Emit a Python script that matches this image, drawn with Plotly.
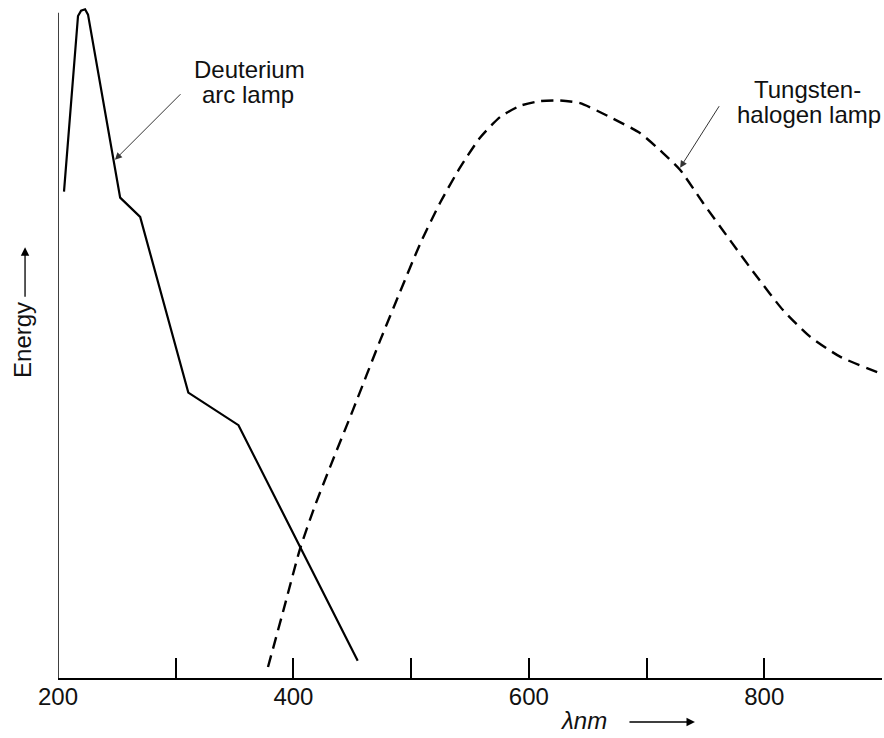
import plotly.graph_objects as go

# Deuterium arc lamp (solid)
deut_x = [205.1, 217.0, 219.6, 223.0, 225.5, 252.8, 269.8, 310.7, 353.3, 454.6]
deut_y = [73.1, 99.5, 100.3, 100.5, 99.7, 72.2, 69.3, 42.9, 38.0, 2.6]

# Tungsten-halogen lamp (dashed)
tung_x = [378.4, 392.0, 405.6, 418.3, 431.1, 450.6, 473.6, 490.5, 507.5, 524.5,
          541.5, 558.5, 575.5, 592.5, 609.5, 626.5, 643.5, 669.0, 694.4, 714.0,
          728.4, 748.0, 770.9, 793.8, 815.9, 838.9, 864.3, 900.0]
tung_y = [1.65, 10.5, 19.4, 25.9, 31.7, 40.3, 50.7, 58.0, 65.2, 71.4,
          76.7, 81.2, 84.3, 86.0, 86.7, 86.8, 86.4, 84.3, 81.9, 78.9,
          76.4, 71.4, 65.8, 60.3, 55.3, 51.3, 48.3, 45.7]

tick_vals = [200, 300, 400, 500, 600, 700, 800, 900]
tick_text = ["200", "", "400", "", "600", "", "800", ""]

FONT = "Liberation Sans, Arial, Helvetica, sans-serif"
TXT = "#111111"

fig = go.Figure()
fig.add_trace(go.Scatter(x=deut_x, y=deut_y, mode="lines",
                         line=dict(color="black", width=2.2), showlegend=False,
                         hoverinfo="skip"))
fig.add_trace(go.Scatter(x=tung_x, y=tung_y, mode="lines",
                         line=dict(color="black", width=2.4, dash="12px,7px",
                                   shape="spline", smoothing=0.6),
                         showlegend=False, hoverinfo="skip"))

# y axis line
fig.add_shape(type="line", xref="x", yref="y", x0=200, x1=200, y0=0, y1=100,
              line=dict(color="black", width=1.5))

ann = []
def txt(s, x, y, xanchor="center", italic=False):
    ann.append(dict(text=("<i>%s</i>" % s) if italic else s, x=x, y=y,
                    xref="paper", yref="paper", xanchor=xanchor, yanchor="middle",
                    showarrow=False, font=dict(family=FONT, size=24, color=TXT)))

txt("Deuterium", 0.2318, 0.9048)
txt("arc lamp", 0.2300, 0.8676)
txt("Tungsten-", 0.9096, 0.876)
txt("halogen lamp", 1.001, 0.8378, xanchor="right")

# Energy label
ann.append(dict(text="Energy", x=-0.0425, y=0.503, xref="paper", yref="paper",
                textangle=-90, showarrow=False, xanchor="center", yanchor="middle",
                font=dict(family=FONT, size=24, color=TXT)))
ann.append(dict(text="", x=-0.040, y=0.641, xref="paper", yref="paper",
                showarrow=True, ax=0, ay=51, arrowhead=2, arrowsize=1.3,
                arrowwidth=1.3, arrowcolor="black"))
# lambda nm label
txt("λnm", 0.638, -0.0625, italic=True)
ann.append(dict(text="", x=0.773, y=-0.0655, xref="paper", yref="paper",
                showarrow=True, ax=-67, ay=0, arrowhead=2, arrowsize=1.3,
                arrowwidth=1.3, arrowcolor="black"))

# pointer arrows
ann.append(dict(text="", x=248.4, y=77.9, xref="x", yref="y", showarrow=True,
                ax=67, ay=-67, arrowhead=2, arrowsize=1.4, arrowwidth=1,
                arrowcolor="#333333"))
ann.append(dict(text="", x=728.5, y=76.7, xref="x", yref="y", showarrow=True,
                ax=40, ay=-63, arrowhead=2, arrowsize=1.4, arrowwidth=1,
                arrowcolor="#333333"))

fig.update_layout(
    width=884, height=738,
    margin=dict(l=58, r=2, t=6, b=60),
    paper_bgcolor="white", plot_bgcolor="white",
    annotations=ann,
    xaxis=dict(range=[200, 900], tickvals=tick_vals, ticktext=tick_text,
               ticks="inside", ticklen=20, tickwidth=1.5, tickcolor="black",
               showline=True, linecolor="black", linewidth=1.5,
               showgrid=False, zeroline=False, ticklabelstandoff=-4,
               tickfont=dict(family=FONT, size=24, color=TXT)),
    yaxis=dict(range=[0, 101], showline=False, showticklabels=False,
               ticks="", showgrid=False, zeroline=False),
)

fig.write_html("out.html", config={"displayModeBar": False},
               post_script="document.body.style.margin='0';"
                           "document.body.style.overflow='hidden';")
